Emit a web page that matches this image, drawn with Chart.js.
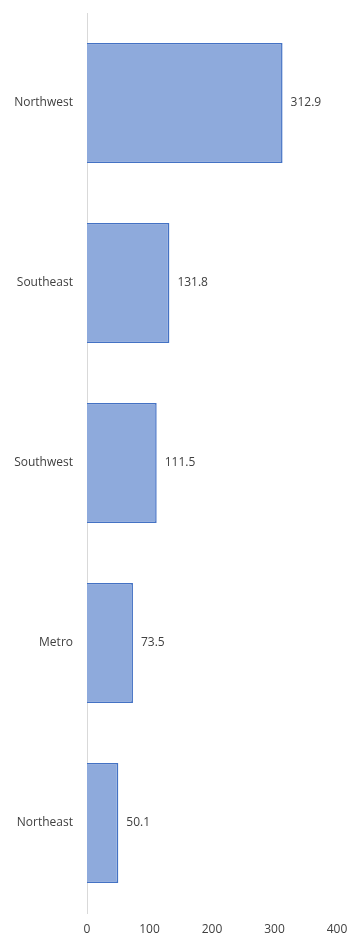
<!DOCTYPE html>
<html>
<head>
<meta charset="utf-8">
<script src="https://cdn.jsdelivr.net/npm/chart.js@4/dist/chart.umd.min.js"></script>
<style>
  html, body { margin: 0; padding: 0; background: #fff; }
  canvas { display: block; }
</style>
</head>
<body>
<canvas id="regionChart" width="354" height="939"></canvas>
<script>
const regions = ["Northwest", "Southeast", "Southwest", "Metro", "Northeast"];
const values = [312.9, 131.8, 111.5, 73.5, 50.1];
const xTicks = [0, 100, 200, 300, 400];

// value labels just past the end of each bar
const valueLabels = {
  id: "valueLabels",
  afterDatasetsDraw(chart) {
    const ctx = chart.ctx;
    const meta = chart.getDatasetMeta(0);
    ctx.save();
    ctx.font = "12px 'Open Sans', sans-serif";
    ctx.fillStyle = "#404040";
    ctx.textAlign = "left";
    ctx.textBaseline = "middle";
    meta.data.forEach((bar, i) => {
      ctx.fillText(values[i].toFixed(1), bar.x + 8, bar.y);
    });
    ctx.restore();
  }
};

new Chart(document.getElementById("regionChart").getContext("2d"), {
  type: "bar",
  data: {
    labels: regions,
    datasets: [{
      data: values,
      backgroundColor: "#8eaadc",
      borderColor: "#4472c4",
      borderWidth: 1.5,
      barPercentage: 1,
      categoryPercentage: 0.667,
    }]
  },
  options: {
    indexAxis: "y",
    responsive: false,
    animation: false,
    layout: { padding: { top: 13, right: 17, bottom: 0, left: 0 } },
    plugins: {
      legend: { display: false },
      tooltip: { enabled: false },
    },
    scales: {
      x: {
        min: 0,
        max: 400,
        afterBuildTicks: (scale) => { scale.ticks = xTicks.map((v) => ({ value: v })); },
        grid: { display: false, drawTicks: false },
        border: { display: false },
        ticks: { color: "#404040", padding: 9, font: { family: "'Open Sans', sans-serif", size: 12 } },
        afterFit: (scale) => {
          scale.height = 26;
          scale.paddingLeft = 0;
          scale.paddingRight = 0;
        },
      },
      y: {
        grid: { display: false, drawTicks: false },
        border: { display: true, color: "#d9d9d9", width: 1 },
        ticks: { color: "#404040", padding: 14, font: { family: "'Open Sans', sans-serif", size: 12 } },
        afterFit: (scale) => {
          scale.width = 87;
          scale.paddingTop = 0;
          scale.paddingBottom = 0;
        },
      },
    },
  },
  plugins: [valueLabels],
});
</script>
</body>
</html>
